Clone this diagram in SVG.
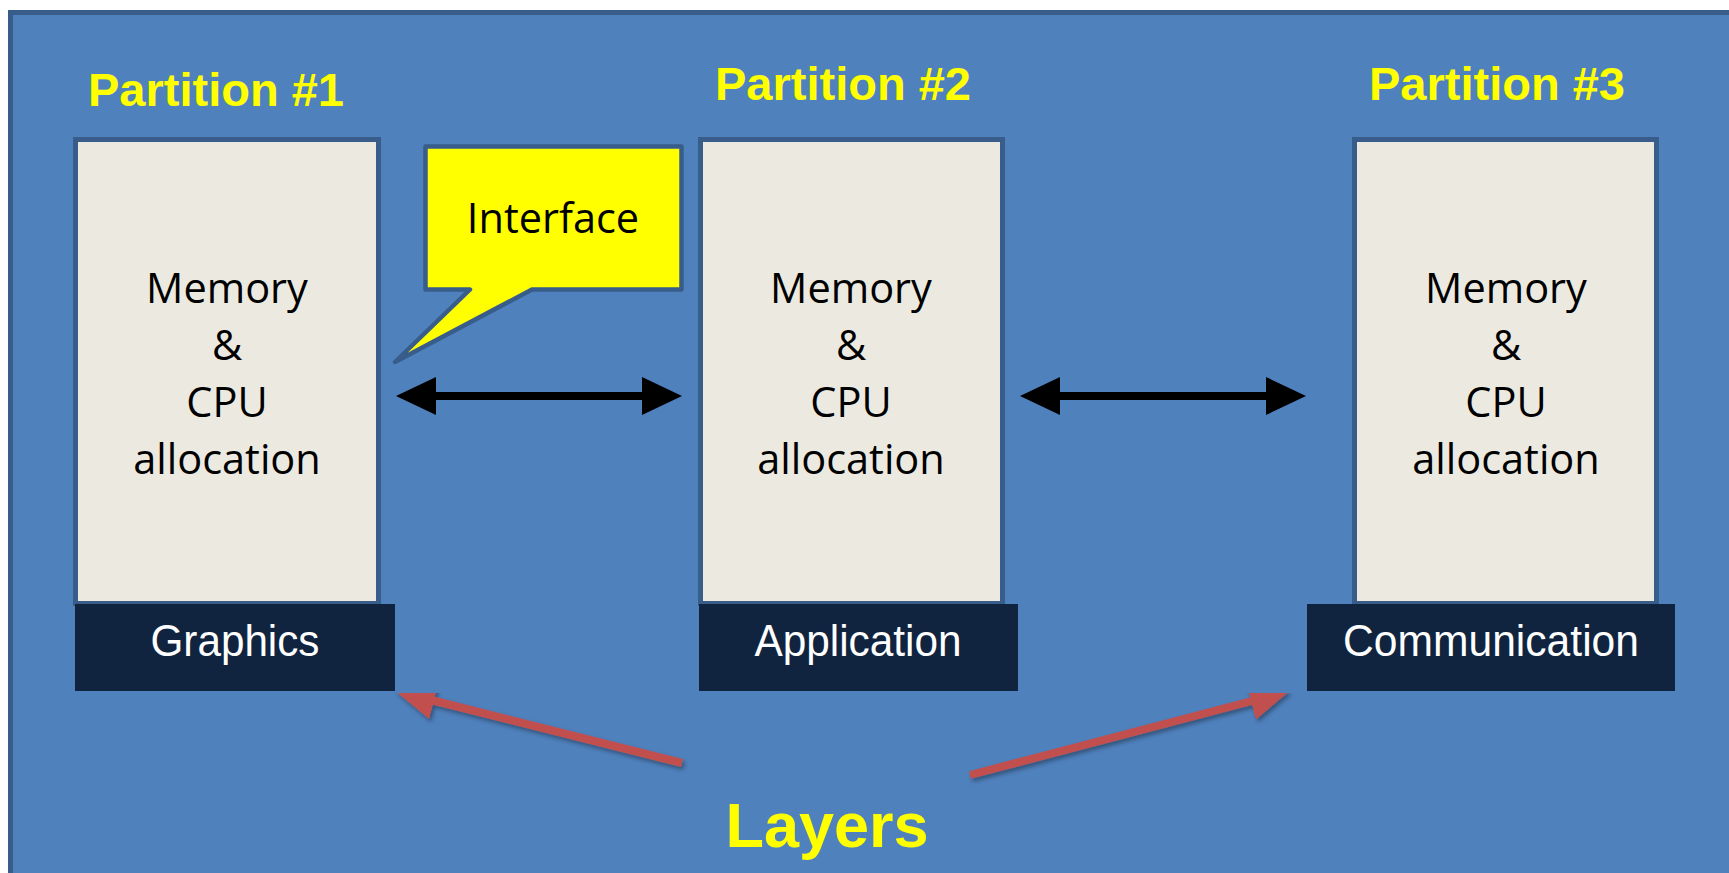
<svg xmlns="http://www.w3.org/2000/svg" width="1729" height="873" viewBox="0 0 1729 873">
<style>
.part{font-family:"Liberation Sans",Arial,sans-serif;font-weight:bold;font-size:47px;fill:#FFFF00;text-anchor:middle}
.mem{font-family:"Open Sans","Noto Sans",sans-serif;font-size:41.5px;fill:#000;text-anchor:middle}
.box{fill:#ECEAE0;stroke:#385D8A;stroke-width:5}
.layer{fill:#10243F}
.lt{font-family:"Liberation Sans",Arial,sans-serif;font-size:45px;fill:#fff;text-anchor:middle}
.blk{stroke:#000;stroke-width:8;fill:none}
.red{stroke:#C0504D;stroke-width:8;fill:none}
</style>
<defs>
<marker id="hb" markerUnits="userSpaceOnUse" markerWidth="40" markerHeight="38" viewBox="0 0 40 38" refX="1" refY="19" orient="auto-start-reverse"><path d="M0,0 L40,19 L0,38 Z" fill="#000"/></marker>
<marker id="hr" markerUnits="userSpaceOnUse" markerWidth="40" markerHeight="38" viewBox="0 0 40 38" refX="1" refY="19" orient="auto"><path d="M0,0 L40,19 L0,38 Z" fill="#C0504D"/></marker>
<filter id="sh" x="-10%" y="-10%" width="130%" height="140%"><feDropShadow dx="2" dy="3" stdDeviation="2" flood-color="#000" flood-opacity="0.35"/></filter>
</defs>
<rect x="0" y="0" width="1729" height="873" fill="#fff"/>
<rect x="10.5" y="12.5" width="1760" height="900" fill="#4F81BD" stroke="#385D8A" stroke-width="5"/>

<g id="partition1">
<text class="part" x="216" y="106">Partition #1</text>
<rect class="box" x="75.5" y="139.5" width="303" height="464"/>
<text class="mem" x="227" y="303">Memory</text>
<text class="mem" x="227" y="360">&amp;</text>
<text class="mem" x="227" y="417">CPU</text>
<text class="mem" x="227" y="474">allocation</text>
</g>
<g id="layer-graphics">
<rect class="layer" x="75" y="604" width="320" height="87"/>
<text class="lt" x="235" y="656" textLength="169" lengthAdjust="spacingAndGlyphs">Graphics</text>
</g>

<g id="partition2">
<text class="part" x="843" y="100">Partition #2</text>
<rect class="box" x="700.5" y="139.5" width="302" height="464"/>
<text class="mem" x="851" y="303">Memory</text>
<text class="mem" x="851" y="360">&amp;</text>
<text class="mem" x="851" y="417">CPU</text>
<text class="mem" x="851" y="474">allocation</text>
</g>
<g id="layer-application">
<rect class="layer" x="699" y="604" width="319" height="87"/>
<text class="lt" x="858" y="656" textLength="207" lengthAdjust="spacingAndGlyphs">Application</text>
</g>

<g id="partition3">
<text class="part" x="1497" y="100">Partition #3</text>
<rect class="box" x="1354.5" y="139.5" width="302" height="464"/>
<text class="mem" x="1506" y="303">Memory</text>
<text class="mem" x="1506" y="360">&amp;</text>
<text class="mem" x="1506" y="417">CPU</text>
<text class="mem" x="1506" y="474">allocation</text>
</g>
<g id="layer-communication">
<rect class="layer" x="1307" y="604" width="368" height="87"/>
<text class="lt" x="1491" y="656" textLength="296" lengthAdjust="spacingAndGlyphs">Communication</text>
</g>

<g id="interface">
<path d="M425.5,146.5 H681.5 V289.5 H532 L395,362 L470,289.5 H425.5 Z" fill="#FFFF00" stroke="#385D8A" stroke-width="4.5" stroke-linejoin="round"/>
<text x="553" y="233" font-family="Open Sans, Noto Sans, sans-serif" font-size="41.5" text-anchor="middle" fill="#000">Interface</text>
</g>

<g id="layers-label">
<text x="827" y="847" font-family="Liberation Sans, Arial, sans-serif" font-weight="bold" font-size="63" fill="#FFFF00" text-anchor="middle">Layers</text>
</g>

<g id="connectors">
<line class="blk" x1="435" y1="396" x2="643" y2="396" marker-start="url(#hb)" marker-end="url(#hb)"/>
<line class="blk" x1="1059" y1="396" x2="1267" y2="396" marker-start="url(#hb)" marker-end="url(#hb)"/>
<g filter="url(#sh)">
<line class="red" x1="682" y1="763" x2="433" y2="700.5" marker-end="url(#hr)"/>
<line class="red" x1="970" y1="775" x2="1252" y2="701" marker-end="url(#hr)"/>
</g>
</g>
</svg>
